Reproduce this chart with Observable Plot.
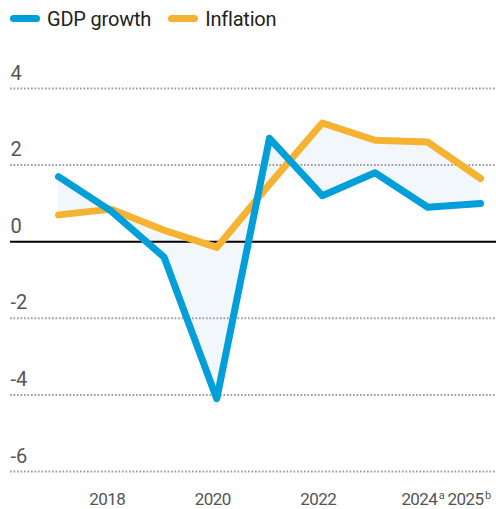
<!DOCTYPE html>
<html>
<head>
<meta charset="utf-8">
<script src="https://cdn.jsdelivr.net/npm/d3@7"></script>
<script src="https://cdn.jsdelivr.net/npm/@observablehq/plot@0.6"></script>
<style>
  html, body { margin: 0; padding: 0; background: #fff; }
  body { width: 496px; height: 509px; overflow: hidden; font-family: Roboto, "Liberation Sans", sans-serif; }
  #legend { height: 37px; display: flex; align-items: center; padding-left: 10px; font-size: 20px; color: #222; letter-spacing: -0.2px; }
  .item { display: flex; align-items: center; margin-right: 17px; }
  .sw { width: 30px; height: 7px; border-radius: 4px; margin-right: 7px; }
</style>
</head>
<body>
<div id="legend"></div>
<div id="chart"></div>
<script>
const years = [2017, 2018, 2019, 2020, 2021, 2022, 2023, 2024, 2025];
const gdpGrowth = [1.7, 0.8, -0.4, -4.1, 2.7, 1.2, 1.8, 0.9, 1.0];
const inflation = [0.7, 0.85, 0.3, -0.15, 1.5, 3.1, 2.65, 2.6, 1.65];
const seriesNames = ["GDP growth", "Inflation"];
const seriesColors = ["#009fda", "#f6b331"];
const yTicks = [4, 2, 0, -2, -4, -6];
const xTickYears = [2018, 2020, 2022, 2024, 2025];
const xTickLabels = ["2018", "2020", "2022", "2024", "2025"];
const xTickNotes = ["", "", "", "a", "b"];

const rows = years.map((y, i) => ({year: y, gdp: gdpGrowth[i], inf: inflation[i]}));
const xticks = xTickYears.map((y, i) => ({year: y, label: xTickLabels[i], note: xTickNotes[i]}));

const legend = document.getElementById("legend");
seriesNames.forEach((n, i) => {
  const it = document.createElement("div");
  it.className = "item";
  it.innerHTML = `<span class="sw" style="background:${seriesColors[i]}"></span><span>${n}</span>`;
  legend.appendChild(it);
});

const font = 'Roboto, "Liberation Sans", sans-serif';

const chart = Plot.plot({
  width: 496,
  height: 472,
  marginLeft: 58,
  marginRight: 16,
  marginTop: 51,
  marginBottom: 38,
  style: {fontFamily: font, background: "#fff", overflow: "visible"},
  x: {domain: [2017, 2025], axis: null},
  y: {domain: [-6, 4], axis: null},
  marks: [
    Plot.areaY(rows, {x: "year", y1: "gdp", y2: "inf", fill: "#f2f7fb"}),
    Plot.ruleY(yTicks.filter(d => d !== 0), {y: d => d, stroke: "#a0a0a0", strokeWidth: 2, strokeDasharray: "1.7,1.8", insetLeft: -48, insetRight: -16}),
    Plot.ruleY([0], {stroke: "#000", strokeWidth: 2, insetLeft: -48, insetRight: -16}),
    Plot.text(yTicks, {y: d => d, text: d => String(d), frameAnchor: "left", textAnchor: "start", lineAnchor: "bottom", dx: -48, dy: -9, fontSize: 20, fill: "#555"}),
    Plot.lineY(rows, {x: "year", y: "inf", stroke: seriesColors[1], strokeWidth: 7, strokeLinecap: "round", strokeLinejoin: "round"}),
    Plot.lineY(rows, {x: "year", y: "gdp", stroke: seriesColors[0], strokeWidth: 7, strokeLinecap: "round", strokeLinejoin: "round"}),
    Plot.text(xticks.slice(0, 3), {x: "year", text: "label", frameAnchor: "bottom", lineAnchor: "bottom", dy: 33, dx: -4, fontSize: 17, fill: "#555", className: "xlab"}),
    Plot.text(xticks.slice(3, 4), {x: "year", text: d => d.label + "|" + d.note, frameAnchor: "bottom", lineAnchor: "bottom", dy: 33, dx: -5, fontSize: 17, fill: "#555", className: "xlab"}),
    Plot.text(xticks.slice(4), {x: "year", text: d => d.label + "|" + d.note, frameAnchor: "bottom", lineAnchor: "bottom", dy: 33, dx: 10, textAnchor: "end", fontSize: 17, fill: "#555", className: "xlab"})
  ]
});
chart.querySelectorAll(".xlab text").forEach(t => {
  t.style.letterSpacing = "-0.6px";
  const s = t.textContent;
  if (s.includes("|")) {
    const [main, note] = s.split("|");
    t.textContent = main;
    const ts = document.createElementNS("http://www.w3.org/2000/svg", "tspan");
    ts.textContent = note;
    ts.setAttribute("font-size", "11");
    ts.setAttribute("dx", "1.5");
    ts.setAttribute("dy", "-6");
    t.appendChild(ts);
  }
});
document.getElementById("chart").appendChild(chart);
</script>
</body>
</html>
